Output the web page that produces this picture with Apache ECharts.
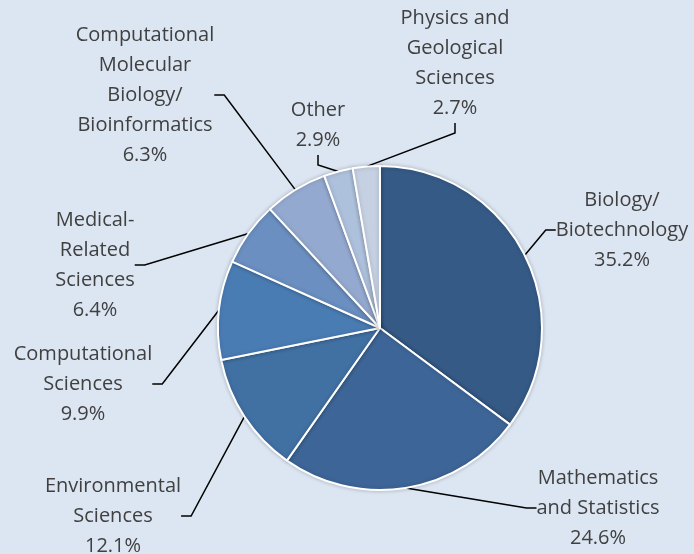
<!DOCTYPE html>
<html>
<head>
<meta charset="utf-8">
<script src="https://cdn.jsdelivr.net/npm/echarts@6/dist/echarts.min.js"></script>
<style>
  html, body { margin: 0; padding: 0; background: #dce6f2; }
  #chart { width: 694px; height: 554px; }
</style>
</head>
<body>
<div id="chart"></div>
<script>
  var fields = ['Biology/\nBiotechnology', 'Mathematics\nand Statistics', 'Environmental\nSciences',
    'Computational\nSciences', 'Medical-\nRelated\nSciences', 'Computational\nMolecular\nBiology/\nBioinformatics',
    'Other', 'Physics and\nGeological\nSciences']
  var shares = [35.2, 24.6, 12.1, 9.9, 6.4, 6.3, 2.9, 2.7]
  var colors = ['#355a86', '#3d6597', '#4170a3', '#4a7cb4', '#6a8fc0', '#94a9cf', '#adc0dc', '#c5d0e3']

  // where each label block sits (centre of text)
  var labelPos = [[622, 230], [598, 508], [113, 516], [83, 384], [95, 265], [145, 95], [318, 125], [455, 63]]

  var chart = echarts.init(document.getElementById('chart'))
  chart.setOption({
    backgroundColor: '#dce6f2',
    series: [
      {
        type: 'pie',
        center: [380, 328],
        radius: [0, 162],
        startAngle: 90,
        clockwise: true,
        animation: false,
        itemStyle: {
          borderColor: '#ffffff',
          borderWidth: 2,
          shadowBlur: 4,
          shadowColor: 'rgba(0,0,0,0.2)'
        },
        label: {
          show: true,
          position: 'outside',
          color: '#404040',
          fontFamily: 'Open Sans',
          fontSize: 20,
          lineHeight: 30,
          align: 'center',
          overflow: 'none',
          formatter: function (p) {
            return p.name + '\n' + p.value.toFixed(1) + '%'
          }
        },
        labelLine: {
          show: true,
          length: 10,
          length2: 10,
          lineStyle: { color: '#000000', width: 1.5 }
        },
        labelLayout: function (p) {
          var pos = labelPos[p.dataIndex]
          return { x: pos[0], y: pos[1], align: 'center', verticalAlign: 'middle' }
        },
        data: fields.map(function (f, i) {
          return { name: f, value: shares[i], itemStyle: { color: colors[i] } }
        })
      }
    ]
  })
</script>
</body>
</html>
